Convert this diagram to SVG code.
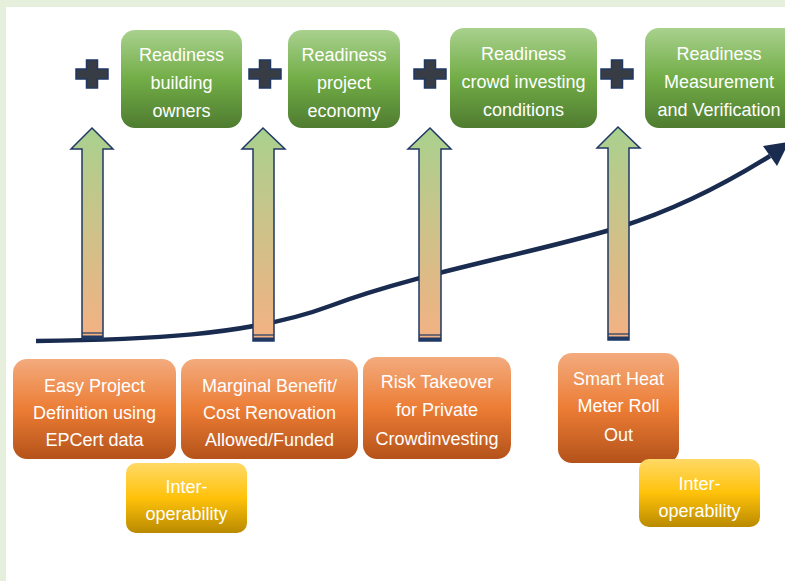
<svg xmlns="http://www.w3.org/2000/svg" width="785" height="581" viewBox="0 0 785 581">
  <defs>
    <linearGradient id="gGreen" x1="0" y1="0" x2="0" y2="1">
      <stop offset="0" stop-color="#a9d18e"/>
      <stop offset="0.5" stop-color="#72ad47"/>
      <stop offset="1" stop-color="#4f7c30"/>
    </linearGradient>
    <linearGradient id="gOrange" x1="0" y1="0" x2="0" y2="1">
      <stop offset="0" stop-color="#f3ab7e"/>
      <stop offset="0.5" stop-color="#ec7d35"/>
      <stop offset="1" stop-color="#b4521a"/>
    </linearGradient>
    <linearGradient id="gYellow" x1="0" y1="0" x2="0" y2="1">
      <stop offset="0" stop-color="#ffd966"/>
      <stop offset="0.5" stop-color="#ffc20a"/>
      <stop offset="1" stop-color="#b98a00"/>
    </linearGradient>
    <linearGradient id="gArrow" x1="0" y1="0" x2="0" y2="1">
      <stop offset="0" stop-color="#a9d18e"/>
      <stop offset="1" stop-color="#f4b183"/>
    </linearGradient>
    <path id="plus" d="M-5.5,-14 H5.5 V-5 H16 V5 H5.5 V14 H-5.5 V5 H-16 V-5 H-5.5 Z"/>
  </defs>
  <style>
    .txt { font-family: "Liberation Sans", Arial, sans-serif; font-size: 18px; fill: #ffffff; text-anchor: middle; }
    .green { fill: url(#gGreen); }
    .orange { fill: url(#gOrange); }
    .yellow { fill: url(#gYellow); }
    .plus { fill: #383d45; stroke: #1f3864; stroke-width: 1.5; }
    .up { fill: url(#gArrow); stroke: #1f3864; stroke-width: 1.5; stroke-linejoin: miter; }
    .foot { fill: #1f3864; }
    .footline { stroke: #1f3864; stroke-width: 1.2; }
    .trend { fill: none; stroke: #1a2b50; stroke-width: 4.5; }
  </style>

  <!-- frame -->
  <rect x="0" y="0" width="785" height="581" fill="#e6efdc"/>
  <rect x="6" y="7" width="779" height="574" fill="#ffffff"/>

  <!-- growth curve -->
  <g id="connectors">
    <path class="trend" d="M36,341 C140,340 250,336 330,306 C420,272.25 540,252 620,227 C680,208.25 730,181 770,156"/>
    <polygon points="763,146 777,166 789,142" fill="#1a2b50"/>
  </g>

  <!-- upward arrows -->
  <g id="arrow-1">
    <polygon class="up" points="92,128 113,149 103,149 103,339 82,339 82,149 71,149"/>
    <line class="footline" x1="82" y1="333" x2="103" y2="333"/>
    <rect class="foot" x="82" y="335.5" width="21" height="3.5"/>
  </g>
  <g id="arrow-2">
    <polygon class="up" points="263,128 285,149 274,149 274,341 253,341 253,149 242,149"/>
    <line class="footline" x1="253" y1="335" x2="274" y2="335"/>
    <rect class="foot" x="253" y="337.5" width="21" height="3.5"/>
  </g>
  <g id="arrow-3">
    <polygon class="up" points="430,128 451,149 441,149 441,341 419,341 419,149 408,149"/>
    <line class="footline" x1="419" y1="335" x2="441" y2="335"/>
    <rect class="foot" x="419" y="337.5" width="22" height="3.5"/>
  </g>
  <g id="arrow-4">
    <polygon class="up" points="618,127 640,148 629,148 629,340 608,340 608,148 597,148"/>
    <line class="footline" x1="608" y1="334" x2="629" y2="334"/>
    <rect class="foot" x="608" y="336.5" width="21" height="3.5"/>
  </g>

  <!-- plus signs -->
  <g id="plus-1"><use href="#plus" class="plus" transform="translate(92,74)"/></g>
  <g id="plus-2"><use href="#plus" class="plus" transform="translate(265,74)"/></g>
  <g id="plus-3"><use href="#plus" class="plus" transform="translate(430,74)"/></g>
  <g id="plus-4"><use href="#plus" class="plus" transform="translate(617,74)"/></g>

  <!-- readiness boxes -->
  <g id="readiness-owners">
    <rect class="green" x="121" y="30" width="121" height="98" rx="14"/>
    <text class="txt" x="181.5" y="61">Readiness</text>
    <text class="txt" x="181.5" y="89">building</text>
    <text class="txt" x="181.5" y="117">owners</text>
  </g>
  <g id="readiness-economy">
    <rect class="green" x="288" y="30" width="112" height="98" rx="14"/>
    <text class="txt" x="344" y="61">Readiness</text>
    <text class="txt" x="344" y="89">project</text>
    <text class="txt" x="344" y="117">economy</text>
  </g>
  <g id="readiness-crowd">
    <rect class="green" x="450" y="28" width="147" height="100" rx="14"/>
    <text class="txt" x="523.5" y="60">Readiness</text>
    <text class="txt" x="523.5" y="88">crowd investing</text>
    <text class="txt" x="523.5" y="116">conditions</text>
  </g>
  <g id="readiness-mv">
    <rect class="green" x="645" y="28" width="155" height="100" rx="14"/>
    <text class="txt" x="719" y="60">Readiness</text>
    <text class="txt" x="719" y="88">Measurement</text>
    <text class="txt" x="719" y="116">and Verification</text>
  </g>

  <!-- enabler boxes -->
  <g id="easy-project">
    <rect class="orange" x="13" y="359" width="163" height="100" rx="14"/>
    <text class="txt" x="94.5" y="392">Easy Project</text>
    <text class="txt" x="94.5" y="419">Definition using</text>
    <text class="txt" x="94.5" y="446">EPCert data</text>
  </g>
  <g id="marginal-benefit">
    <rect class="orange" x="181" y="359" width="177" height="100" rx="14"/>
    <text class="txt" x="269.5" y="392">Marginal Benefit/</text>
    <text class="txt" x="269.5" y="419">Cost Renovation</text>
    <text class="txt" x="269.5" y="446">Allowed/Funded</text>
  </g>
  <g id="risk-takeover">
    <rect class="orange" x="363" y="357" width="148" height="102" rx="14"/>
    <text class="txt" x="437" y="388">Risk Takeover</text>
    <text class="txt" x="437" y="416">for Private</text>
    <text class="txt" x="437" y="445">Crowdinvesting</text>
  </g>
  <g id="smart-heat">
    <rect class="orange" x="558" y="353" width="121" height="110" rx="14"/>
    <text class="txt" x="618.5" y="385">Smart Heat</text>
    <text class="txt" x="618.5" y="412">Meter Roll</text>
    <text class="txt" x="618.5" y="441">Out</text>
  </g>
  <g id="interop-1">
    <rect class="yellow" x="126" y="463" width="121" height="70" rx="10"/>
    <text class="txt" x="186.5" y="493">Inter-</text>
    <text class="txt" x="186.5" y="520">operability</text>
  </g>
  <g id="interop-2">
    <rect class="yellow" x="639" y="459" width="121" height="68" rx="10"/>
    <text class="txt" x="699.5" y="490">Inter-</text>
    <text class="txt" x="699.5" y="517">operability</text>
  </g>
</svg>
